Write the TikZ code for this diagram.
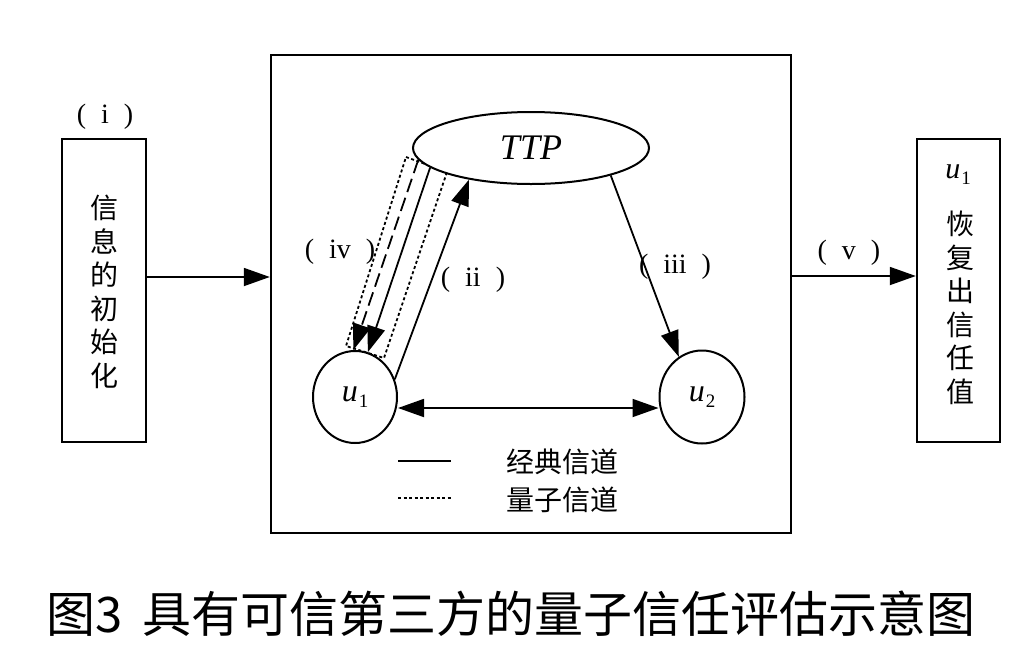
\documentclass[tikz,border=0pt]{standalone}
\usepackage{fontspec}
\setmainfont{Liberation Serif}
\newfontfamily\cjk{Noto Sans CJK SC}
\usetikzlibrary{arrows.meta, shapes.geometric}
\newcommand{\stagelabel}[1]{(\hspace{15pt}#1\hspace{15pt})}
\newcommand{\uname}[1]{\textit{u}\kern1pt\raisebox{-6pt}{\fontsize{19}{22}\selectfont #1}}

\begin{document}
\begin{tikzpicture}[x=1pt, y=-1pt,
  box/.style={draw, line width=2.4pt, inner sep=0pt},
  party/.style={draw, ellipse, line width=2pt, fill=white, inner sep=0pt, font=\fontsize{32}{36}\selectfont},
  arr/.style={line width=1.8pt, -{Triangle[length=26pt, width=18pt]}},
  dblarr/.style={line width=1.8pt, {Triangle[length=26pt, width=18pt]}-{Triangle[length=26pt, width=18pt]}},
  lbl/.style={font=\fontsize{28}{32}\selectfont},
  vtext/.style={font=\cjk\fontsize{28}{33.5}\selectfont, align=center},
  qdot/.style={line width=1.8pt, dash pattern=on 3pt off 2.5pt}]
  \useasboundingbox (0,0) rectangle (1022,656);

  % Quantum channel tube
  \draw[qdot] (406,157) -- (447,172) -- (384,358) -- (346,346) -- cycle;

  % Boxes
  \node[box, minimum width=520pt, minimum height=478pt] (mainbox) at (531,294) {};
  \node[box, minimum width=84pt, minimum height=303pt] (initbox) at (104,290.5) {};
  \node[box, minimum width=83pt, minimum height=303pt] (trustbox) at (958.5,290.5) {};

  % Parties
  \node[party, minimum width=236pt, minimum height=72pt, font=\fontsize{36}{40}\selectfont\itshape] (ttp) at (531,148) {TTP};
  \node[party, minimum width=84pt, minimum height=92pt] (u1) at (355,397) {\uname{1}};
  \node[party, minimum width=85pt, minimum height=93pt] (u2) at (702,397) {\uname{2}};

  % Box texts
  \node[vtext] (inittext) at (104,292) {信\\息\\的\\初\\始\\化};
  \node[lbl, font=\fontsize{30}{36}\selectfont] (trustuser) at (958,175) {\uname{1}};
  \node[vtext] (trusttext) at (960,308) {恢\\复\\出\\信\\任\\值};

  % Step labels
  \node[lbl] (labi) at (105,117) {\stagelabel{i}};
  \node[lbl] (labii) at (473,280) {\stagelabel{ii}};
  \node[lbl] (labiii) at (675,267) {\stagelabel{iii}};
  \node[lbl] (labiv) at (340,252) {\stagelabel{iv}};
  \node[lbl] (labv) at (849,253) {\stagelabel{v}};

  % Arrows
  \draw[arr] ([yshift=13.5pt]initbox.east) -- ([yshift=13.5pt]initbox.east -| mainbox.west);
  \draw[arr] ([yshift=18pt]mainbox.east) -- ([yshift=18pt]mainbox.east -| trustbox.west);
  \draw[arr] (u1.24) -- (ttp.207);
  \draw[arr] (ttp.191) -- (u1.74);
  \draw[arr, dash pattern=on 14pt off 6pt] (ttp.186) -- (u1.92);
  \draw[arr] (ttp.341) -- (u2.120);
  \draw[dblarr] ([yshift=-11pt]u1.east) -- ([yshift=-11pt]u2.west);

  % Legend
  \coordinate (cl1) at (398,461);
  \coordinate (cl2) at (451,461);
  \coordinate (ql1) at (398,498);
  \coordinate (ql2) at (451,498);
  \draw[line width=2pt] (cl1) -- (cl2);
  \draw[qdot] (ql1) -- (ql2);
  \node[vtext, anchor=west] (classic) at (503,462) {经典信道};
  \node[vtext, anchor=west] (quantum) at (503,500) {量子信道};

  % Caption
  \node[font=\cjk\fontsize{49}{56}\selectfont] (caption) at (511,614) {图3\hspace{20pt}具有可信第三方的量子信任评估示意图};
\end{tikzpicture}
\end{document}
